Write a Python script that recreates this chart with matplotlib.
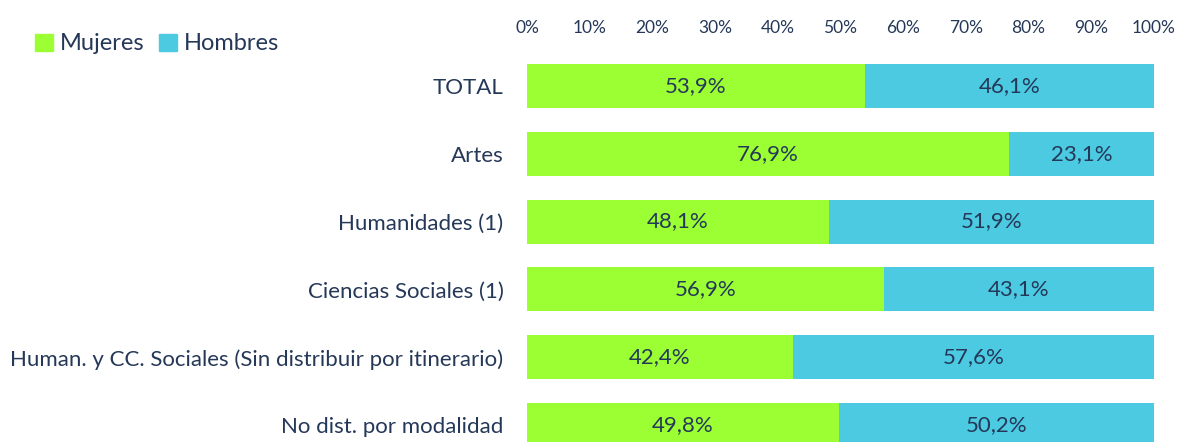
import matplotlib.pyplot as plt
from matplotlib.patches import Patch

categories = ["TOTAL", "Artes", "Humanidades (1)", "Ciencias Sociales (1)",
              "Human. y CC. Sociales (Sin distribuir por itinerario)",
              "No dist. por modalidad"]
mujeres = [53.9, 76.9, 48.1, 56.9, 42.4, 49.8]
hombres = [46.1, 23.1, 51.9, 43.1, 57.6, 50.2]
ticks = [0, 10, 20, 30, 40, 50, 60, 70, 80, 90, 100]

green = "#9BFF33"
blue = "#4BCAE2"
txt = "#253858"

plt.rcParams['font.family'] = ['Lato', 'DejaVu Sans']

fig = plt.figure(figsize=(11.8, 4.42), dpi=100)
ax = fig.add_axes([527 / 1180, 0, 627 / 1180, 392 / 442])

y = list(range(len(categories)))
ax.barh(y, mujeres, height=0.65, color=green)
ax.barh(y, hombres, left=mujeres, height=0.65, color=blue)

for i in y:
    ax.text(mujeres[i] / 2, i, f"{mujeres[i]:.1f}%".replace(".", ","),
            ha="center", va="center", fontsize=16, color=txt)
    ax.text(mujeres[i] + hombres[i] / 2, i, f"{hombres[i]:.1f}%".replace(".", ","),
            ha="center", va="center", fontsize=16, color=txt)

ax.set_xlim(0, 100)
ax.set_ylim(5.25, -0.53)
ax.set_yticks(y)
ax.set_yticklabels(categories, fontsize=16, color=txt)
ax.set_xticks(ticks)
ax.set_xticklabels([f"{t}%" for t in ticks], fontsize=12.5, color=txt)
ax.xaxis.tick_top()
ax.tick_params(axis="x", length=0, pad=10)
ax.tick_params(axis="y", length=0, pad=17)
for s in ax.spines.values():
    s.set_visible(False)

handles = [Patch(color=green, label="Mujeres"), Patch(color=blue, label="Hombres")]
leg = fig.legend(handles=handles, loc="center left", bbox_to_anchor=(14 / 1180, 1 - 44 / 442),
                 ncol=2, frameon=False, fontsize=17, handlelength=0.75, handleheight=0.75,
                 handletextpad=0.3, columnspacing=0.6)
for t in leg.get_texts():
    t.set_color(txt)

fig.savefig("out.png", dpi=100)
